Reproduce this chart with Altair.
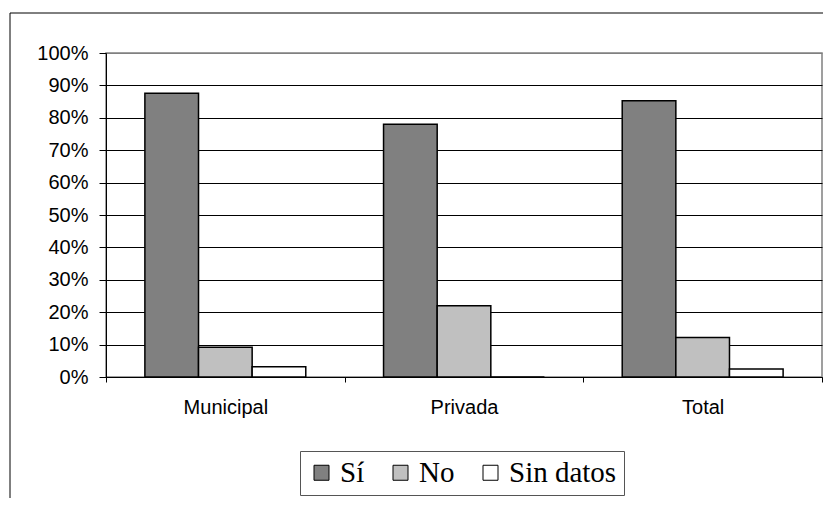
import altair as alt
import pandas as pd

categories = ["Municipal", "Privada", "Total"]
series = ["Sí", "No", "Sin datos"]
si_values = [0.876, 0.780, 0.853]
no_values = [0.092, 0.220, 0.122]
sin_datos_values = [0.032, 0.0, 0.025]
y_ticks = [0.0, 0.1, 0.2, 0.3, 0.4, 0.5, 0.6, 0.7, 0.8, 0.9, 1.0]
colors = ["#808080", "#c0c0c0", "#ffffff"]

rows = []
for s, vals in zip(series, [si_values, no_values, sin_datos_values]):
    for c, v in zip(categories, vals):
        rows.append({"categoria": c, "serie": s, "valor": v})
df = pd.DataFrame(rows)

bars = alt.Chart(df).mark_bar(stroke="black", strokeWidth=1.5).encode(
    x=alt.X(
        "categoria:N",
        sort=categories,
        scale=alt.Scale(paddingInner=0, paddingOuter=0),
        axis=alt.Axis(
            title=None, labelAngle=0, tickBand="extent", tickSize=5,
            labelPadding=15, labelFont="Liberation Sans", labelFontSize=20,
            labelColor="black", domainColor="black", tickColor="black",
            grid=False,
        ),
    ),
    xOffset=alt.XOffset(
        "serie:N", sort=series,
        scale=alt.Scale(paddingInner=0, paddingOuter=0.725),
    ),
    y=alt.Y(
        "valor:Q",
        scale=alt.Scale(domain=[0, 1]),
        axis=alt.Axis(
            title=None, values=y_ticks, format=".0%", tickSize=7,
            labelPadding=11, labelFont="Liberation Sans", labelFontSize=20,
            labelColor="black", domainColor="black", tickColor="black",
            grid=True,
            gridColor=alt.condition("datum.value >= 1", alt.value("#808080"), alt.value("black")),
            gridWidth=1,
        ),
    ),
    fill=alt.Fill(
        "serie:N", sort=series,
        scale=alt.Scale(domain=series, range=colors),
        legend=alt.Legend(
            title=None, orient="none", legendX=194, legendY=398,
            direction="horizontal", symbolType="square", symbolSize=225,
            symbolStrokeColor="black", symbolStrokeWidth=1,
            labelFont="Liberation Serif", labelFontSize=29, labelColor="black",
            labelOffset=4, columnPadding=21, padding=7,
            strokeColor="#555555", fillColor="white",
        ),
    ),
)

frame = alt.Chart(pd.DataFrame({"k": [0]})).mark_rect(
    fill="transparent", stroke="black", strokeWidth=1
).encode(
    x=alt.value(-96), x2=alt.value(760), y=alt.value(-40), y2=alt.value(480)
)

chart = alt.layer(frame, bars).properties(
    width=716, height=324,
    autosize=alt.AutoSizeParams(type="none"),
    padding={"left": 98, "top": 45, "right": 1, "bottom": 121},
).configure_view(stroke="#808080", strokeWidth=1.5)

chart.save("out.html", embed_options={"renderer": "svg", "actions": False})
